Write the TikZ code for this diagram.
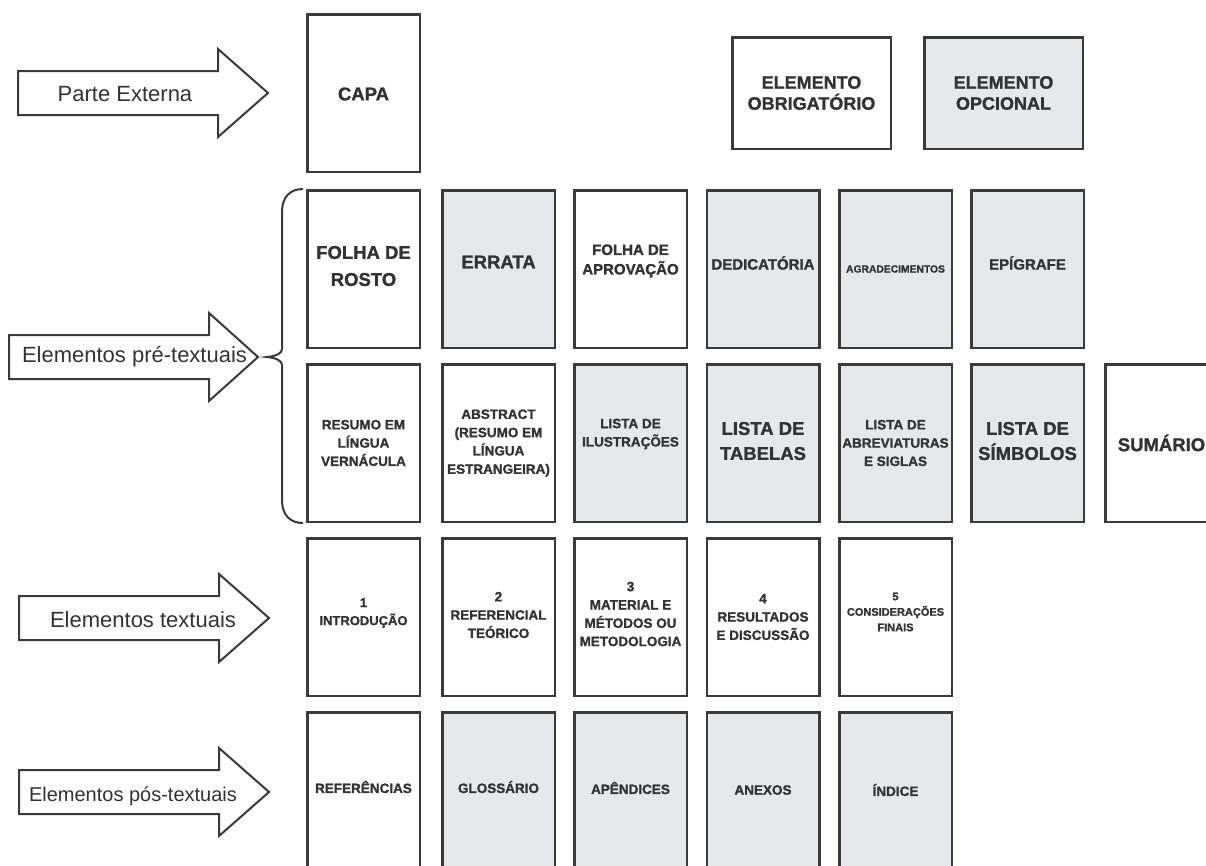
\documentclass[tikz,border=0pt]{standalone}
\usepackage{fontspec}
\setmainfont{Liberation Sans}[BoldFeatures={FakeBold=1.3}]
\definecolor{ink}{HTML}{333333}
\definecolor{edge}{HTML}{3A3A3A}
\definecolor{opt}{HTML}{E6E7E8}
\tikzset{
  pagebox/.style={draw=edge, line width=2.5pt, minimum width=112.5pt, minimum height=157.5pt, inner sep=0pt, fill=white},
  optbox/.style={pagebox, fill=opt},
  legbox/.style={draw=edge, line width=2.5pt, minimum width=158.5pt, minimum height=111.5pt, inner sep=0pt, fill=white},
  lbl/.style={text=ink, align=center, inner sep=0pt},
  bigt/.style={lbl, font=\fontsize{18.5}{25}\selectfont\bfseries},
  rostot/.style={lbl, font=\fontsize{18.5}{27}\selectfont\bfseries},
  legt/.style={lbl, font=\fontsize{18}{21}\selectfont\bfseries},
  midt/.style={lbl, font=\fontsize{15}{19.5}\selectfont\bfseries},
  smlt/.style={lbl, font=\fontsize{13.5}{18.3}\selectfont\bfseries},
  smalt/.style={lbl, font=\fontsize{13}{18}\selectfont\bfseries},
  consit/.style={lbl, font=\fontsize{11}{15.5}\selectfont\bfseries},
  tinyt/.style={lbl, font=\fontsize{10.3}{13}\selectfont\bfseries},
  armt/.style={text=ink, inner sep=0pt, anchor=base, font=\fontsize{22}{26}\selectfont},
  arrowline/.style={draw=edge, line width=2pt, fill=white, line join=miter},
  braceline/.style={draw=edge, line width=2pt},
}
\begin{document}
\begin{tikzpicture}[x=1pt, y=-1pt]
\clip (0,0) rectangle (1206,865);
\fill[white] (0,0) rectangle (1206,865);

% ---------- arrows ----------
\draw[arrowline, shift={(18,93)}] (0,-22) -- (200,-22) -- (200,-44) -- (250,0) -- (200,44) -- (200,22) -- (0,22) -- cycle;
\node[armt] (a-ext) at (125,101) {Parte Externa};

\draw[arrowline, shift={(9,357)}] (0,-22) -- (200,-22) -- (200,-44) -- (249,0) -- (200,44) -- (200,22) -- (0,22) -- cycle;
\node[armt] (a-pre) at (134.5,362) {Elementos pré-textuais};

\draw[arrowline, shift={(19,618)}] (0,-22) -- (200,-22) -- (200,-44) -- (250,0) -- (200,44) -- (200,22) -- (0,22) -- cycle;
\node[armt] (a-txt) at (143,627) {Elementos textuais};

\draw[arrowline, shift={(19,792)}] (0,-22) -- (200,-22) -- (200,-44) -- (250,0) -- (200,44) -- (200,22) -- (0,22) -- cycle;
\node[armt, font=\fontsize{20}{24}\selectfont] (a-pos) at (133,801) {Elementos pós-textuais};

% ---------- brace ----------
\coordinate (br-top) at (303,189);
\coordinate (br-tip) at (267,357);
\coordinate (br-bot) at (303,523);
\draw[braceline] (br-top) .. controls (290,189) and (282,197) .. (282,212) -- (282,349)
  .. controls (282,353) and (277,356) .. (br-tip)
  .. controls (277,358) and (282,361) .. (282,365) -- (282,500)
  .. controls (282,515) and (290,523) .. (br-bot);

% ---------- CAPA and legend ----------
\node[pagebox] (capa) at (363.5,93) {};
\node[bigt] (t-capa) at ([yshift=-1pt]capa.center) {CAPA};

\node[legbox] (obrig) at (811.5,93) {};
\node[legt] (t-obrig) at (obrig.center) {ELEMENTO\\OBRIGATÓRIO};
\node[legbox, fill=opt] (opcio) at (1003.5,93) {};
\node[legt] (t-opcio) at (opcio.center) {ELEMENTO\\OPCIONAL};

% ---------- row 1 ----------
\node[pagebox] (rosto) at (363.5,269) {};
\node[rostot] (t-rosto) at ([yshift=3pt]rosto.center) {FOLHA DE\\ROSTO};
\node[optbox] (errata) at (498.5,269) {};
\node[bigt] (t-errata) at ([yshift=7pt]errata.center) {ERRATA};
\node[pagebox] (aprov) at (630.5,269) {};
\node[midt] (t-aprov) at ([yshift=8pt]aprov.center) {FOLHA DE\\APROVAÇÃO};
\node[optbox] (dedic) at (763,269) {};
\node[midt] (t-dedic) at ([yshift=6pt]dedic.center) {DEDICATÓRIA};
\node[optbox] (agrad) at (895.5,269) {};
\node[tinyt] (t-agrad) at (agrad.center) {AGRADECIMENTOS};
\node[optbox] (epig) at (1027.5,269) {};
\node[midt] (t-epig) at ([yshift=6pt]epig.center) {EPÍGRAFE};

% ---------- row 2 ----------
\node[pagebox] (resumo) at (363.5,443) {};
\node[smlt] (t-resumo) at (resumo.center) {RESUMO EM\\LÍNGUA\\VERNÁCULA};
\node[pagebox] (abstr) at (498.5,443) {};
\node[smlt] (t-abstr) at (abstr.center) {ABSTRACT\\(RESUMO EM\\LÍNGUA\\ESTRANGEIRA)};
\node[optbox] (ilust) at (630.5,443) {};
\node[smlt] (t-ilust) at ([yshift=9pt]ilust.center) {LISTA DE\\ILUSTRAÇÕES};
\node[optbox] (tabel) at (763,443) {};
\node[bigt] (t-tabel) at ([yshift=2pt]tabel.center) {LISTA DE\\TABELAS};
\node[optbox] (abrev) at (895.5,443) {};
\node[smlt] (t-abrev) at (abrev.center) {LISTA DE\\ABREVIATURAS\\E SIGLAS};
\node[optbox] (simb) at (1027.5,443) {};
\node[bigt] (t-simb) at ([yshift=2pt]simb.center) {LISTA DE\\SÍMBOLOS};
\node[pagebox] (sumar) at (1161.5,443) {};
\node[bigt] (t-sumar) at (sumar.center) {SUMÁRIO};

% ---------- row 3 ----------
\node[pagebox] (intro) at (363.5,617) {};
\node[smalt] (t-intro) at ([yshift=4pt]intro.center) {1\\INTRODUÇÃO};
\node[pagebox] (refteo) at (498.5,617) {};
\node[smlt] (t-refteo) at ([yshift=2pt]refteo.center) {2\\REFERENCIAL\\TEÓRICO};
\node[pagebox] (metod) at (630.5,617) {};
\node[smlt] (t-metod) at ([yshift=3pt]metod.center) {3\\MATERIAL E\\MÉTODOS OU\\METODOLOGIA};
\node[pagebox] (result) at (763,617) {};
\node[smlt] (t-result) at (result.center) {4\\RESULTADOS\\E DISCUSSÃO};
\node[pagebox] (consid) at (895.5,617) {};
\node[consit] (t-consid) at ([yshift=5pt]consid.center) {5\\CONSIDERAÇÕES\\FINAIS};

% ---------- row 4 ----------
\node[pagebox] (refer) at (363.5,791) {};
\node[smlt] (t-refer) at ([yshift=4pt]refer.center) {REFERÊNCIAS};
\node[optbox] (gloss) at (498.5,791) {};
\node[smlt] (t-gloss) at ([yshift=4pt]gloss.center) {GLOSSÁRIO};
\node[optbox] (apend) at (630.5,791) {};
\node[smlt] (t-apend) at ([yshift=3pt]apend.center) {APÊNDICES};
\node[optbox] (anexo) at (763,791) {};
\node[smlt] (t-anexo) at ([yshift=1pt]anexo.center) {ANEXOS};
\node[optbox] (indic) at (895.5,791) {};
\node[smlt] (t-indic) at ([yshift=1pt]indic.center) {ÍNDICE};
\end{tikzpicture}
\end{document}
